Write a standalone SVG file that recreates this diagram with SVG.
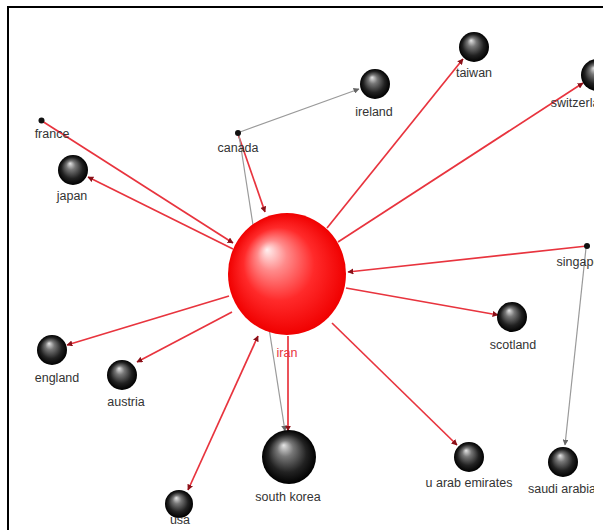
<svg xmlns="http://www.w3.org/2000/svg" width="603" height="530" viewBox="0 0 603 530">
<style>
  .lbl { font-family: "Liberation Sans", Arial, sans-serif; font-size: 12.5px; fill: #333; text-anchor: middle; }
  .red { fill: none; stroke: #e8343e; stroke-width: 1.7; }
  .gray { fill: none; stroke: #9a9a9a; stroke-width: 1.2; }
</style>
<defs>
  <radialGradient id="gBlack" cx="50%" cy="50%" r="50%" fx="40%" fy="28%">
    <stop offset="0" stop-color="#e6e6e6"/>
    <stop offset="0.3" stop-color="#777"/>
    <stop offset="0.7" stop-color="#222"/>
    <stop offset="1" stop-color="#000"/>
  </radialGradient>
  <radialGradient id="gRed" cx="50%" cy="50%" r="50%" fx="33%" fy="30%">
    <stop offset="0" stop-color="#fff0f0"/>
    <stop offset="0.25" stop-color="#ff8a8a"/>
    <stop offset="0.6" stop-color="#ff2a2a"/>
    <stop offset="1" stop-color="#f00000"/>
  </radialGradient>
  <marker id="aRed" viewBox="0 0 10 10" refX="9" refY="5" markerWidth="6" markerHeight="6" markerUnits="userSpaceOnUse" orient="auto-start-reverse">
    <path d="M0,0 L10,5 L0,10 z" fill="#8a1018"/>
  </marker>
  <marker id="aGray" viewBox="0 0 10 10" refX="9" refY="5" markerWidth="6" markerHeight="6" markerUnits="userSpaceOnUse" orient="auto">
    <path d="M0,0 L10,5 L0,10 z" fill="#666"/>
  </marker>
  <clipPath id="clip"><rect x="0" y="0" width="594" height="530"/></clipPath>
</defs>
<rect x="0" y="0" width="603" height="530" fill="#fff"/>
<rect x="8" y="7" width="620" height="540" fill="none" stroke="#000" stroke-width="2"/>
<g clip-path="url(#clip)">
<g id="connectors">
  <line class="red" x1="42" y1="121" x2="233" y2="243" marker-end="url(#aRed)"/>
  <line class="red" x1="233" y1="249" x2="88" y2="177" marker-end="url(#aRed)"/>
  <line class="red" x1="238" y1="134" x2="265" y2="212" marker-end="url(#aRed)"/>
  <line class="gray" x1="240" y1="132" x2="359" y2="89" marker-end="url(#aGray)"/>
  <line class="gray" x1="239" y1="135" x2="285" y2="431" marker-end="url(#aGray)"/>
  <line class="red" x1="327" y1="228" x2="463" y2="59" marker-end="url(#aRed)"/>
  <line class="red" x1="338" y1="242" x2="583" y2="83" marker-end="url(#aRed)"/>
  <line class="red" x1="587" y1="246" x2="348" y2="272" marker-end="url(#aRed)"/>
  <line class="gray" x1="586" y1="248" x2="565" y2="445" marker-end="url(#aGray)"/>
  <line class="red" x1="346" y1="288" x2="498" y2="315" marker-end="url(#aRed)"/>
  <line class="red" x1="332" y1="323" x2="457" y2="445" marker-end="url(#aRed)"/>
  <line class="red" x1="288" y1="336" x2="288" y2="431" marker-end="url(#aRed)"/>
  <line class="red" x1="229" y1="296" x2="67" y2="345" marker-end="url(#aRed)"/>
  <line class="red" x1="232" y1="312" x2="137" y2="362" marker-end="url(#aRed)"/>
  <line class="red" x1="258" y1="336" x2="188" y2="490" marker-start="url(#aRed)" marker-end="url(#aRed)"/>
</g>
<g id="iran">
  <ellipse cx="287" cy="274" rx="59" ry="61" fill="url(#gRed)"/>
  <text class="lbl" x="287" y="357" style="fill:#e8343e">iran</text>
</g>
<g id="france">
  <circle cx="41.5" cy="120.5" r="3" fill="#111"/>
  <text class="lbl" x="52" y="138">france</text>
</g>
<g id="japan">
  <circle cx="73" cy="170" r="15" fill="url(#gBlack)"/>
  <text class="lbl" x="72" y="200">japan</text>
</g>
<g id="canada">
  <circle cx="238" cy="133" r="3" fill="#111"/>
  <text class="lbl" x="238" y="152">canada</text>
</g>
<g id="ireland">
  <circle cx="375" cy="84" r="15" fill="url(#gBlack)"/>
  <text class="lbl" x="374" y="116">ireland</text>
</g>
<g id="taiwan">
  <circle cx="474" cy="47" r="15" fill="url(#gBlack)"/>
  <text class="lbl" x="474" y="77">taiwan</text>
</g>
<g id="switzerland">
  <circle cx="597" cy="75" r="16" fill="url(#gBlack)"/>
  <text class="lbl" x="582" y="107">switzerland</text>
</g>
<g id="singapore">
  <circle cx="587" cy="246" r="3" fill="#111"/>
  <text class="lbl" x="584" y="266">singapore</text>
</g>
<g id="scotland">
  <circle cx="512" cy="317" r="15" fill="url(#gBlack)"/>
  <text class="lbl" x="513" y="349">scotland</text>
</g>
<g id="uae">
  <circle cx="469" cy="457" r="15" fill="url(#gBlack)"/>
  <text class="lbl" x="469" y="487">u arab emirates</text>
</g>
<g id="saudi_arabia">
  <circle cx="563" cy="462" r="15" fill="url(#gBlack)"/>
  <text class="lbl" x="562" y="493">saudi arabia</text>
</g>
<g id="south_korea">
  <circle cx="289" cy="457" r="27" fill="url(#gBlack)"/>
  <text class="lbl" x="288" y="501">south korea</text>
</g>
<g id="usa">
  <circle cx="179" cy="504" r="14" fill="url(#gBlack)"/>
  <text class="lbl" x="180" y="524">usa</text>
</g>
<g id="austria">
  <circle cx="122" cy="375" r="15" fill="url(#gBlack)"/>
  <text class="lbl" x="126" y="406">austria</text>
</g>
<g id="england">
  <circle cx="52" cy="350" r="15" fill="url(#gBlack)"/>
  <text class="lbl" x="57" y="382">england</text>
</g>
</g>
</svg>
